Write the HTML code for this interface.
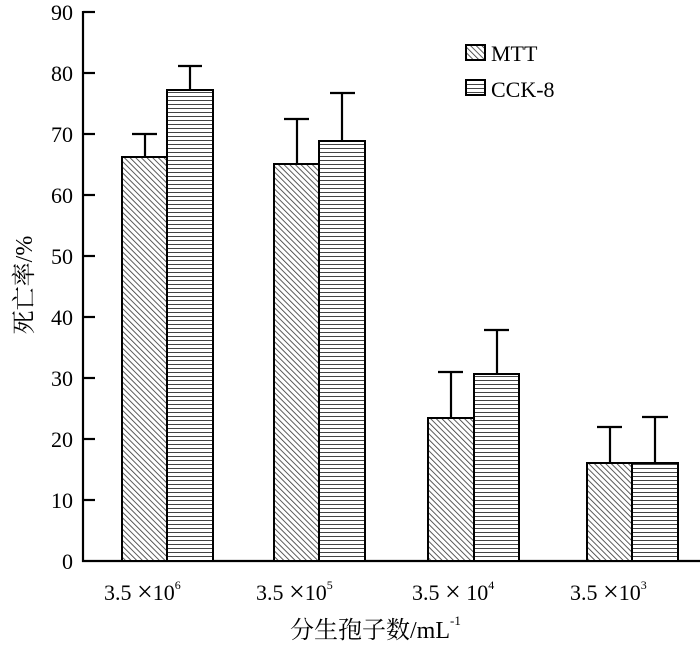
<!DOCTYPE html>
<html><head><meta charset="utf-8"><style>body{margin:0;background:#fff}</style></head><body>
<svg width="700" height="643" viewBox="0 0 700 643" xmlns="http://www.w3.org/2000/svg" font-family="'Liberation Serif','Noto Serif CJK SC',serif">
<defs>
<pattern id="d" width="4" height="4" patternUnits="userSpaceOnUse" patternTransform="rotate(-45)"><rect width="4" height="4" fill="#fff"/><line x1="0" y1="0" x2="0" y2="4" stroke="#333" stroke-width="1.6"/></pattern>
<pattern id="h" width="4" height="4" patternUnits="userSpaceOnUse"><rect width="4" height="4" fill="#fff"/><line x1="0" y1="0.5" x2="4" y2="0.5" stroke="#444" stroke-width="1"/></pattern>
</defs>
<g stroke="#000" stroke-width="2.2">
<line x1="83" y1="11" x2="83" y2="562"/><line x1="82" y1="561" x2="700" y2="561"/>
<line x1="83" y1="12" x2="95" y2="12"/><line x1="83" y1="73" x2="95" y2="73"/><line x1="83" y1="134" x2="95" y2="134"/><line x1="83" y1="195" x2="95" y2="195"/><line x1="83" y1="256" x2="95" y2="256"/><line x1="83" y1="317" x2="95" y2="317"/><line x1="83" y1="378" x2="95" y2="378"/><line x1="83" y1="439" x2="95" y2="439"/><line x1="83" y1="500" x2="95" y2="500"/>
</g>
<g font-size="22" text-anchor="end">
<text x="73" y="20">90</text><text x="73" y="81">80</text><text x="73" y="142">70</text><text x="73" y="203">60</text><text x="73" y="264">50</text><text x="73" y="325">40</text><text x="73" y="386">30</text><text x="73" y="447">20</text><text x="73" y="508">10</text><text x="73" y="569">0</text>
</g>
<g stroke="#000" stroke-width="2.2">
<line x1="145" y1="157" x2="145" y2="134"/><line x1="132" y1="134" x2="157" y2="134"/>
<line x1="190" y1="90" x2="190" y2="66"/><line x1="178" y1="66" x2="202" y2="66"/>
<line x1="297" y1="164" x2="297" y2="119"/><line x1="284" y1="119" x2="309" y2="119"/>
<line x1="342" y1="141" x2="342" y2="93"/><line x1="330" y1="93" x2="355" y2="93"/>
<line x1="451" y1="418" x2="451" y2="372"/><line x1="438" y1="372" x2="463" y2="372"/>
<line x1="497" y1="374" x2="497" y2="330"/><line x1="484" y1="330" x2="509" y2="330"/>
<line x1="610" y1="463" x2="610" y2="427"/><line x1="597" y1="427" x2="622" y2="427"/>
<line x1="655" y1="463" x2="655" y2="417"/><line x1="642" y1="417" x2="668" y2="417"/>
</g>
<g stroke="#000" stroke-width="2">
<rect x="122" y="157" width="45" height="404" fill="url(#d)"/>
<rect x="167" y="90" width="46" height="471" fill="url(#h)"/>
<rect x="274" y="164" width="45" height="397" fill="url(#d)"/>
<rect x="319" y="141" width="46" height="420" fill="url(#h)"/>
<rect x="428" y="418" width="46" height="143" fill="url(#d)"/>
<rect x="474" y="374" width="45" height="187" fill="url(#h)"/>
<rect x="587" y="463" width="45" height="98" fill="url(#d)"/>
<rect x="632" y="463" width="46" height="98" fill="url(#h)"/>
<rect x="466" y="45" width="19" height="15" fill="url(#d)"/>
<rect x="466" y="80" width="19" height="15" fill="url(#h)"/>
</g>
<g font-size="22">
<text x="491" y="61">MTT</text><text x="491" y="97">CCK-8</text>
<text x="104" y="600">3.5 <tspan font-size="28" dy="1">×</tspan><tspan dy="-1">10</tspan><tspan font-size="12" dy="-11">6</tspan></text>
<text x="256" y="600">3.5 <tspan font-size="28" dy="1">×</tspan><tspan dy="-1">10</tspan><tspan font-size="12" dy="-11">5</tspan></text>
<text x="412" y="600">3.5 <tspan font-size="28" dy="1">×</tspan><tspan dy="-1"> 10</tspan><tspan font-size="12" dy="-11">4</tspan></text>
<text x="570" y="600">3.5 <tspan font-size="28" dy="1">×</tspan><tspan dy="-1">10</tspan><tspan font-size="12" dy="-11">3</tspan></text>
<text x="290" y="638" font-size="24">分生孢子数/mL<tspan font-size="13" dy="-13">-1</tspan></text>
<text transform="translate(32,285) rotate(-90)" text-anchor="middle" font-size="24">死亡率/%</text>
</g>
</svg>
</body></html>
